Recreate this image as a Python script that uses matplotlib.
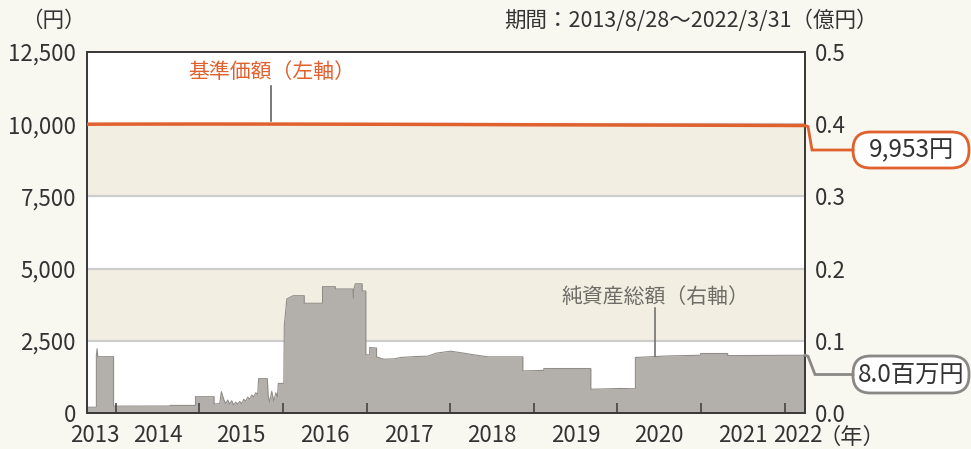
import matplotlib
matplotlib.use("Agg")
import matplotlib.pyplot as plt
import matplotlib.dates as mdates
from matplotlib.patches import FancyBboxPatch
from matplotlib.lines import Line2D
import numpy as np
import datetime as dt

plt.rcParams['font.family'] = ['Noto Sans CJK JP', 'DejaVu Sans']

# ---------------- data ----------------
nav_dates = ["2013-08-28", "2014-01-01", "2015-01-01", "2016-01-01", "2017-01-01",
             "2018-01-01", "2019-01-01", "2020-01-01", "2021-01-01", "2022-03-31"]
nav_values = [10000, 10003, 10006, 10004, 9998, 9990, 9980, 9972, 9965, 9953]

aum_dates = [
    "2013-08-28", "2013-10-08", "2013-10-08", "2013-10-11", "2013-10-14", "2013-12-22",
    "2013-12-22", "2014-08-27", "2014-08-27", "2014-12-15", "2014-12-15", "2015-03-06",
    "2015-03-06", "2015-03-31", "2015-04-07", "2015-04-17", "2015-04-26", "2015-05-05",
    "2015-05-13", "2015-05-22", "2015-05-31", "2015-06-09", "2015-06-17", "2015-06-26",
    "2015-07-05", "2015-07-14", "2015-07-22", "2015-07-31", "2015-08-09", "2015-08-18",
    "2015-08-26", "2015-09-04", "2015-09-13", "2015-09-17", "2015-10-25", "2015-10-28",
    "2015-11-04", "2015-11-13", "2015-11-22", "2015-12-01", "2015-12-08", "2015-12-12",
    "2016-01-05", "2016-01-07", "2016-01-18", "2016-02-15", "2016-04-03", "2016-04-03",
    "2016-06-22", "2016-06-22", "2016-08-17", "2016-08-17", "2016-11-02", "2016-11-04",
    "2016-11-07", "2016-11-12", "2016-12-12", "2016-12-12", "2016-12-28", "2016-12-28",
    "2017-01-14", "2017-01-14", "2017-02-13", "2017-02-13", "2017-03-16", "2017-05-01",
    "2017-05-30", "2017-08-01", "2017-09-25", "2017-11-01", "2018-01-03", "2018-03-01",
    "2018-04-14", "2018-06-14", "2018-11-14", "2018-11-14", "2019-02-14", "2019-02-14",
    "2019-09-07", "2019-09-07", "2020-01-15", "2020-03-20", "2020-03-20", "2020-08-07",
    "2020-12-30", "2020-12-30", "2021-04-27", "2021-04-27", "2022-03-31"]
aum_values = [
    0.008, 0.008, 0.080, 0.089, 0.078, 0.078,
    0.0095, 0.0097, 0.0105, 0.0105, 0.0226, 0.0226,
    0.0125, 0.0130, 0.0296, 0.0190, 0.0130, 0.0180,
    0.0120, 0.0170, 0.0110, 0.0150, 0.0120, 0.0160,
    0.0130, 0.0190, 0.0160, 0.0220, 0.0190, 0.0250,
    0.0220, 0.0280, 0.0260, 0.0476, 0.0476, 0.0250,
    0.0150, 0.0300, 0.0160, 0.0280, 0.0220, 0.0410,
    0.0410, 0.121, 0.158, 0.1625, 0.1625, 0.152,
    0.152, 0.175, 0.175, 0.1718, 0.1718, 0.159,
    0.172, 0.179, 0.179, 0.169, 0.169, 0.0806,
    0.0806, 0.0907, 0.0900, 0.0778, 0.0745, 0.0750,
    0.0769, 0.0782, 0.0787, 0.0829, 0.0856, 0.0829,
    0.0806, 0.0778, 0.0778, 0.0583, 0.0590, 0.0616,
    0.0616, 0.0329, 0.0340, 0.0335, 0.0769, 0.0790,
    0.0800, 0.0824, 0.0824, 0.0795, 0.0800]

left_ticks = [0, 2500, 5000, 7500, 10000, 12500]
right_ticks = [0.0, 0.1, 0.2, 0.3, 0.4, 0.5]
band_ranges = [(0.1, 0.2), (0.3, 0.4)]
year_ticks = ["2014-01-01", "2015-01-01", "2016-01-01", "2017-01-01", "2018-01-01",
              "2019-01-01", "2020-01-01", "2021-01-01", "2022-01-01"]
year_label_pos = ["2013-09-30", "2014-07-02", "2015-07-02", "2016-07-01", "2017-07-02",
                  "2018-07-02", "2019-07-02", "2020-07-01", "2021-07-02", "2022-02-26"]
year_labels = ["2013", "2014", "2015", "2016", "2017", "2018", "2019", "2020", "2021", "2022"]

period_text = "期間：2013/8/28～2022/3/31（億円）"
nav_label = "基準価額（左軸）"
aum_label = "純資産総額（右軸）"
nav_last_text = "9,953円"
aum_last_text = "8.0百万円"

# ---------------- style ----------------
BG = "#f8f7f0"
BAND = "#f2efe2"
GRID = "#cdcdcd"
ORANGE = "#e0602e"
AREA = "#b3b0ab"
AREA_EDGE = "#918e8a"
TXT = "#333333"
GRAYTXT = "#6f6c68"
SPINE = "#3a3a3a"
FS = 16

def d(s):
    return mdates.date2num(dt.datetime.strptime(s, "%Y-%m-%d"))

W, H = 971, 449
fig = plt.figure(figsize=(W / 100, H / 100), dpi=100, facecolor=BG)
ax = fig.add_axes([87 / W, (H - 413) / H, (805 - 87) / W, (413 - 52) / H])
ax2 = ax.twinx()

ax.set_zorder(2)
ax.patch.set_visible(False)
ax2.set_zorder(1)
ax2.patch.set_visible(True)
ax2.patch.set_facecolor("white")

x0, x1 = d(nav_dates[0]), d(nav_dates[-1])
ax.set_xlim(x0, x1)
ax.set_ylim(left_ticks[0], left_ticks[-1])
ax2.set_ylim(right_ticks[0], right_ticks[-1])

# bands and grid (right axis units)
for lo, hi in band_ranges:
    ax2.axhspan(lo, hi, color=BAND, lw=0, zorder=0)
for t in right_ticks[1:-1]:
    ax2.axhline(t, color=GRID, lw=1.6, zorder=0.5)

# area
ax_x = [d(s) for s in aum_dates]
ax2.fill_between(ax_x, aum_values, 0, color=AREA, lw=0, zorder=1)
ax2.plot(ax_x, aum_values, color=AREA_EDGE, lw=0.8, zorder=1.2)

# nav line
nx = [d(s) for s in nav_dates]
ax.plot(nx, nav_values, color=ORANGE, lw=2.5, zorder=3, solid_capstyle="butt")

# ticks
ax.set_yticks(left_ticks)
ax.set_yticklabels([f"{v:,}" for v in left_ticks])
ax2.set_yticks(right_ticks)
ax2.set_yticklabels([f"{v:.1f}" for v in right_ticks])
ax.tick_params(axis="y", length=0, pad=8, labelsize=FS, labelcolor=TXT)
ax2.tick_params(axis="y", length=0, pad=7, labelsize=FS, labelcolor=TXT)

ax.set_xticks([d(s) for s in year_ticks])
ax.set_xticklabels([])
ax.set_xticks([d(s) for s in year_label_pos], minor=True)
ax.set_xticklabels(year_labels, minor=True)
ax.tick_params(axis="x", which="major", direction="in", length=7, width=1.1, color=SPINE)
ax.tick_params(axis="x", which="minor", length=0, pad=8, labelsize=FS, labelcolor=TXT)

for a in (ax, ax2):
    for s in a.spines.values():
        s.set_color(SPINE)
        s.set_linewidth(1.3)

# series labels with leader lines
nav_lbl_x = d("2015-11-12")
ax.plot([nav_lbl_x, nav_lbl_x], [10110, 11320], color="#555555", lw=1.1, zorder=2.5)
ax.text(nav_lbl_x, 11800, nav_label, color=ORANGE, fontsize=FS - 1, ha="center", va="center")

aum_lbl_x = d("2020-06-15")
ax2.plot([aum_lbl_x, aum_lbl_x], [0.0795, 0.1455], color="#666666", lw=1.1, zorder=1.5)
ax2.text(aum_lbl_x, 0.161, aum_label, color=GRAYTXT, fontsize=FS - 1, ha="center", va="center")

# header texts
fig.text(86 / W, 1 - 21 / H, "（円）", fontsize=FS - 0.5, color=TXT, ha="right", va="center")
fig.text(878 / W, 1 - 21 / H, period_text, fontsize=FS - 0.5, color=TXT, ha="right", va="center")
fig.text(818 / W, 1 - 437 / H, "（年）", fontsize=FS, color=TXT, ha="left", va="center")

# callouts
fig.canvas.draw()
inv = fig.transFigure.inverted()

def callout(axis, xv, yv, text, color, box_top, box_bot, bend):
    px, py = axis.transData.transform((xv, yv))
    ybox = H - (box_top + box_bot) / 2
    pts = [(px, py), (px + 3, py - 1), (px + bend, ybox), (853, ybox)]
    fp = inv.transform(pts)
    fig.lines.append(Line2D(fp[:, 0], fp[:, 1], transform=fig.transFigure,
                            color=color, lw=2, solid_joinstyle="miter"))
    bx0, by0 = inv.transform((853, H - box_bot))
    bx1, by1 = inv.transform((969, H - box_top))
    patch = FancyBboxPatch((bx0, by0), bx1 - bx0, by1 - by0,
                           boxstyle="round,pad=0,rounding_size=0.018",
                           transform=fig.transFigure, facecolor="white",
                           edgecolor=color, lw=2, mutation_aspect=W / H)
    fig.patches.append(patch)
    fig.text((bx0 + bx1) / 2, (by0 + by1) / 2, text, fontsize=FS + 1.5, color=TXT,
             ha="center", va="center")

callout(ax, nx[-1], nav_values[-1], nav_last_text, ORANGE, 132, 168, 7)
callout(ax2, ax_x[-1], aum_values[-1], aum_last_text, "#8a8885", 356, 393, 10)

fig.savefig("out.png", dpi=100, facecolor=BG)
